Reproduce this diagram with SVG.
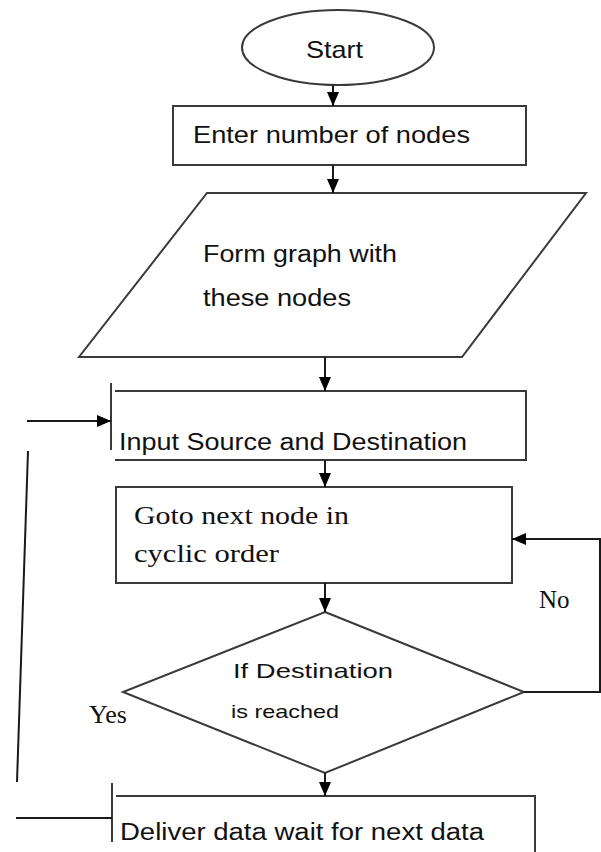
<svg xmlns="http://www.w3.org/2000/svg" width="601" height="852" viewBox="0 0 601 852">
<defs>
<marker id="ah" viewBox="0 0 14 12" refX="14" refY="6" markerWidth="14" markerHeight="12" markerUnits="userSpaceOnUse" orient="auto">
<path d="M0,0 L14,6 L0,12 Z" fill="#000"/>
</marker>
<style>
.s{fill:#fff;stroke:#3a3a3a;stroke-width:2}
.l{fill:none;stroke:#3a3a3a;stroke-width:2}
.c{stroke:#1a1a1a;stroke-width:2;fill:none}
.a{marker-end:url(#ah)}
.t{font-family:"Liberation Sans",Arial,sans-serif;fill:#111}
.r{font-family:"Liberation Serif","Times New Roman",serif;fill:#111}
</style>
</defs>
<rect width="601" height="852" fill="#fff"/>
<g id="start">
<ellipse class="s" cx="338" cy="47.5" rx="96" ry="37.5"/>
<text class="t" x="306" y="58" font-size="24" textLength="57" lengthAdjust="spacingAndGlyphs">Start</text>
</g>
<g id="enter">
<rect class="s" x="173" y="106" width="353" height="59"/>
<text class="t" x="193" y="143" font-size="24" textLength="277" lengthAdjust="spacingAndGlyphs">Enter number of nodes</text>
</g>
<g id="form">
<polygon class="s" points="207,193 586,193 462,357 79,357"/>
<text class="t" x="203" y="262" font-size="23" textLength="194" lengthAdjust="spacingAndGlyphs">Form graph with</text>
<text class="t" x="203" y="306" font-size="23" textLength="148" lengthAdjust="spacingAndGlyphs">these nodes</text>
</g>
<g id="input">
<path class="l" d="M115,391 H526 V460 H115 M111,383 V450"/>
<text class="t" x="119" y="450" font-size="23" textLength="348" lengthAdjust="spacingAndGlyphs">Input Source and Destination</text>
</g>
<g id="goto">
<rect class="s" x="116" y="487" width="396" height="96"/>
<text class="r" x="134" y="524" font-size="26" textLength="215" lengthAdjust="spacingAndGlyphs">Goto next node in</text>
<text class="r" x="134" y="562" font-size="26" textLength="145" lengthAdjust="spacingAndGlyphs">cyclic order</text>
</g>
<g id="decision">
<polygon class="s" points="325,612 524,692 325,773 123,692"/>
<text class="t" x="233" y="678" font-size="21" textLength="160" lengthAdjust="spacingAndGlyphs">If Destination</text>
<text class="t" x="231" y="718" font-size="19" textLength="108" lengthAdjust="spacingAndGlyphs">is reached</text>
</g>
<g id="deliver">
<path class="l" d="M116,796 H535 V852 M112,783 V842"/>
<text class="t" x="120" y="840" font-size="23" textLength="364" lengthAdjust="spacingAndGlyphs">Deliver data wait for next data</text>
</g>
<g id="labels">
<text class="r" x="539" y="608" font-size="25">No</text>
<text class="r" x="89" y="723" font-size="26">Yes</text>
</g>
<g id="connectors">
<line class="c a" x1="333" y1="85" x2="333" y2="106"/>
<line class="c a" x1="333" y1="165" x2="333" y2="193"/>
<line class="c a" x1="325" y1="357" x2="325" y2="391"/>
<line class="c a" x1="325" y1="460" x2="325" y2="487"/>
<line class="c a" x1="325" y1="583" x2="325" y2="612"/>
<line class="c a" x1="325" y1="773" x2="325" y2="796"/>
<polyline class="c a" points="524,692 600,692 600,539 512,539"/>
<line class="c a" x1="27" y1="421" x2="111" y2="421"/>
<line class="c" x1="28" y1="451" x2="17" y2="782"/>
<line class="c" x1="16" y1="818" x2="112" y2="818"/>
</g>
</svg>
